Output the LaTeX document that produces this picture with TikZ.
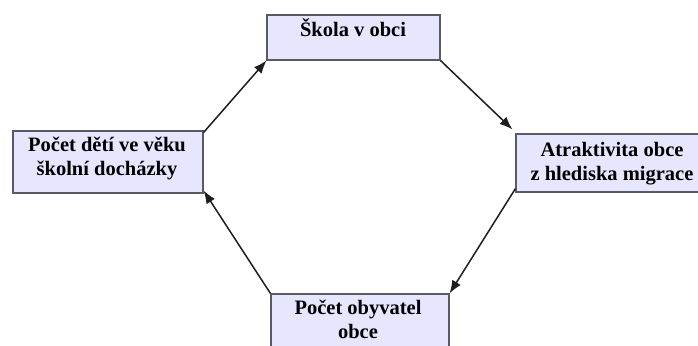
\documentclass[tikz,border=0pt]{standalone}
\usepackage{fontspec}
\setmainfont{Liberation Serif}
\usetikzlibrary{arrows.meta}
\definecolor{boxfill}{HTML}{E6E6FF}
\definecolor{boxline}{HTML}{5A5A66}
\definecolor{arrline}{HTML}{1E1E1E}
\tikzset{
  box/.style={draw=boxline, fill=boxfill, line width=1.1pt, rectangle, inner sep=0pt},
  lbl/.style={font=\fontsize{20.5}{24}\selectfont\bfseries, align=center, inner sep=0pt, anchor=base},
  conn/.style={draw=arrline, line width=1.5pt, -{Latex[length=13pt,width=10pt]}}
}
\begin{document}
\begin{tikzpicture}[x=1pt,y=-1pt]
\useasboundingbox (0,0) rectangle (698,345);
\clip (0,0) rectangle (698,345);
% boxes
\node[box, minimum width=173pt, minimum height=45pt] (skola) at (353.5,37.5) {};
\node[box, minimum width=204pt, minimum height=58pt] (atr) at (618,163) {};
\node[box, minimum width=178pt, minimum height=80pt] (obyv) at (360,334) {};
\node[box, minimum width=190pt, minimum height=62pt] (deti) at (108,162) {};
% texts (anchor base = baseline of the last line)
\node[lbl] (tskola) at (353,37) {Škola v obci};
\node[lbl] (tatr) at (612,180) {Atraktivita obce\\z hlediska migrace};
\node[lbl] (tobyv) at (358,338) {Počet obyvatel\\obce};
\node[lbl] (tdeti) at (107,175) {Počet dětí ve věku\\školní docházky};
% connectors
\draw[conn] (skola.south east) -- ([shift={(-3pt,4pt)}]atr.north west);
\draw[conn] ([shift={(0pt,4pt)}]atr.south west) -- (obyv.north east);
\draw[conn] (obyv.north west) -- ([shift={(0pt,3pt)}]deti.south east);
\draw[conn] ([shift={(0pt,-2pt)}]deti.north east) -- (skola.south west);
\end{tikzpicture}
\end{document}
